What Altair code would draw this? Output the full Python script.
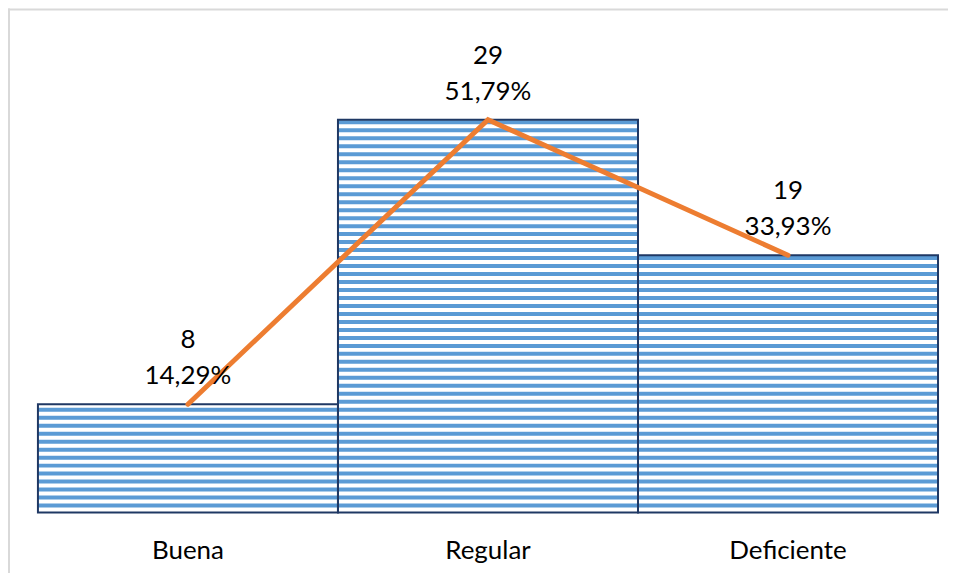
import altair as alt
import pandas as pd

categories = ["Buena", "Regular", "Deficiente"]
counts = [8, 29, 19]
percent_labels = ["14,29%", "51,79%", "33,93%"]

W, H = 902, 475
Y_MAX = 35
PX = H / Y_MAX            # pixels per unit
PERIOD = 8 / PX           # stripe period (pattern geometry)
STRIPE_START = 5 / PX
STRIPE_H = 4 / PX

FONT = "Lato"
FS = 26

df = pd.DataFrame({"cat": categories, "n": counts, "pct": percent_labels})
df["label"] = df["n"].astype(str) + "\n" + df["pct"]

rows = []
for c, v in zip(categories, counts):
    k = 0
    while True:
        lo = STRIPE_START + k * PERIOD
        if lo >= v - 1 / PX:
            break
        hi = min(lo + STRIPE_H, v)
        rows.append({"cat": c, "lo": lo, "hi": hi})
        k += 1
stripes = pd.DataFrame(rows)

xscale = alt.Scale(domain=categories, paddingInner=0, paddingOuter=0)
yscale = alt.Scale(domain=[0, Y_MAX], nice=False, zero=True)

x_axis = alt.Axis(title=None, ticks=False, tickSize=0, domain=False, grid=False,
                  labelAngle=0, labelFont=FONT, labelFontSize=FS, labelColor="#000000",
                  labelBaseline="alphabetic", labelPadding=46)

stripe_layer = alt.Chart(stripes).mark_bar(color="#5B9BD5", strokeWidth=0).encode(
    x=alt.X("cat:N", scale=xscale, axis=x_axis, sort=categories),
    y=alt.Y("lo:Q", scale=yscale, axis=None),
    y2="hi:Q",
)

outline = alt.Chart(df).mark_bar(fill="white", fillOpacity=0, stroke="#1F3864", strokeWidth=2).encode(
    x=alt.X("cat:N", scale=xscale, sort=categories),
    y=alt.Y("n:Q", scale=yscale),
)

line = alt.Chart(df).mark_line(color="#ED7D31", strokeWidth=5, strokeCap="round").encode(
    x=alt.X("cat:N", scale=xscale, sort=categories),
    y=alt.Y("n:Q", scale=yscale),
)

labels = alt.Chart(df).mark_text(font=FONT, fontSize=FS, color="#000000", baseline="bottom",
                                 lineBreak="\n", lineHeight=36, dy=-51, align="center").encode(
    x=alt.X("cat:N", scale=xscale, sort=categories),
    y=alt.Y("n:Q", scale=yscale),
    text="label:N",
)

frame_df = pd.DataFrame({"a": [0]})
frame_left = alt.Chart(frame_df).mark_rule(color="#D9D9D9", strokeWidth=2).encode(
    x=alt.value(-29), y=alt.value(-30), y2=alt.value(H + 140)
)
frame_top = alt.Chart(frame_df).mark_rule(color="#D9D9D9", strokeWidth=2).encode(
    y=alt.value(-29), x=alt.value(-30), x2=alt.value(W + 80)
)

chart = alt.layer(frame_left, frame_top, stripe_layer, outline, line, labels).properties(
    width=W, height=H,
    padding={"left": 30, "top": 30, "right": 10, "bottom": 60},
    autosize=alt.AutoSizeParams(type="none"),
).configure_view(stroke=None)

chart.save("out.html", embed_options={"renderer": "svg", "actions": False})
